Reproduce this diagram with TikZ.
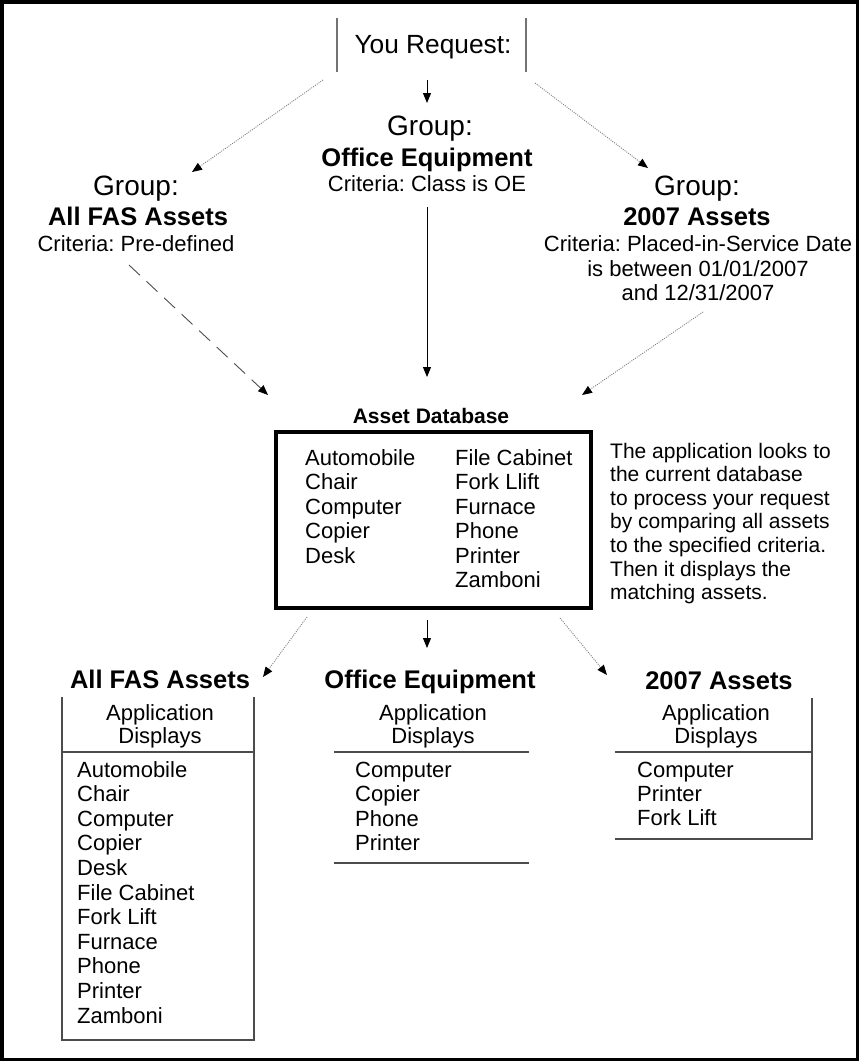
\documentclass[tikz,border=0pt]{standalone}
\usepackage{fontspec}
\setmainfont{Liberation Sans}
\usetikzlibrary{arrows.meta}
\frenchspacing
\begin{document}
\begin{tikzpicture}[x=1pt,y=-1pt,
  txt/.style={inner sep=0pt, anchor=base, font=\fontsize{22}{26}\selectfont},
  itm/.style={inner sep=0pt, anchor=base west, font=\fontsize{22}{26}\selectfont},
  dsc/.style={inner sep=0pt, anchor=base west, font=\fontsize{21}{25}\selectfont},
  grp/.style={inner sep=0pt, anchor=base, font=\fontsize{28}{32}\selectfont},
  ttl/.style={inner sep=0pt, anchor=base, font=\fontsize{25.5}{30}\selectfont\bfseries},
  solidarr/.style={-{Triangle[length=10pt,width=8pt]}, draw=black, line width=1pt},
  dotarr/.style={-{Triangle[length=10pt,width=8pt,color=black]}, draw=black!50, line width=0.9pt, dash pattern=on 1pt off 1.2pt},
  dasharr/.style={-{Triangle[length=10pt,width=8pt,color=black]}, draw=black!70, line width=0.9pt, dash pattern=on 15pt off 9pt},
  tline/.style={draw=black!70, line width=1.3pt},
  rline/.style={draw=black!55, line width=1.6pt}
]
\frenchspacing
\useasboundingbox (0,0) rectangle (859,1061);
\draw[line width=3.5pt] (1.75,1.75) rectangle (857.25,1059.25);

% You Request
\node[inner sep=0pt, anchor=base, font=\fontsize{26.3}{30}\selectfont] (req) at (433,53) {You Request:};
\draw[rline] (337,18) -- (337,72);
\draw[rline] (526,18) -- (526,72);

% Groups
\node[grp] (grpC) at (430,135) {Group:};
\node[ttl] (oeC) at (427,166) {Office Equipment};
\node[txt] (critC) at (427,191) {Criteria: Class is OE};

\node[grp] (grpL) at (136,195) {Group:};
\node[ttl] (allL) at (138,225) {All FAS Assets};
\node[txt] (critL) at (136,251) {Criteria: Pre-defined};

\node[grp] (grpR) at (697,195) {Group:};
\node[ttl] (y07R) at (697,225) {2007 Assets};
\node[txt] (critR1) at (698,251) {Criteria: Placed-in-Service Date};
\node[txt] (critR2) at (698,276) {is between 01/01/2007};
\node[txt] (critR3) at (698,300) {and 12/31/2007};

% Asset database
\node[inner sep=0pt, anchor=base, font=\fontsize{21}{25}\selectfont\bfseries] (adb) at (431,423) {Asset Database};
\node[draw, line width=4.5pt, inner sep=0pt, minimum width=315pt, minimum height=176pt] (db) at (433.5,520) {};
\foreach \t [count=\i] in {Automobile,Chair,Computer,Copier,Desk}
  \node[itm] (dbA\i) at (305,{465+24.5*(\i-1)}) {\t};
\foreach \t [count=\i] in {File Cabinet,Fork Llift,Furnace,Phone,Printer,Zamboni}
  \node[itm] (dbB\i) at (455,{465+24.5*(\i-1)}) {\t};
\foreach \t [count=\i] in {The application looks to,the current database,to process your request,by comparing all assets,to the specified criteria.,Then it displays the,matching assets.}
  \node[dsc] (desc\i) at (610,{458+23.6*(\i-1)}) {\t};

% Arrow end points
\coordinate (a1s) at (427,80);  \coordinate (a1e) at (427,103);
\coordinate (a2s) at (323,80);  \coordinate (a2e) at (192,172);
\coordinate (a3s) at (535,83);  \coordinate (a3e) at (648,168);
\coordinate (a4s) at (129,265); \coordinate (a4e) at (268,395);
\coordinate (a5s) at (427,207); \coordinate (a5e) at (427,377);
\coordinate (a6s) at (703,312); \coordinate (a6e) at (582,395);
\coordinate (a7s) at (307,617); \coordinate (a7e) at (263,677);
\coordinate (a8s) at (427,620); \coordinate (a8e) at (427,648);
\coordinate (a9s) at (560,618); \coordinate (a9e) at (607,675);

\draw[solidarr] (a1s) -- (a1e);
\draw[dotarr] (a2s) -- (a2e);
\draw[dotarr] (a3s) -- (a3e);
\draw[dasharr] (a4s) -- (a4e);
\draw[solidarr] (a5s) -- (a5e);
\draw[dotarr] (a6s) -- (a6e);
\draw[dotarr] (a7s) -- (a7e);
\draw[solidarr] (a8s) -- (a8e);
\draw[dotarr] (a9s) -- (a9e);

% Bottom results
\node[ttl] (allB) at (160,688) {All FAS Assets};
\node[ttl] (oeB) at (430,688) {Office Equipment};
\node[ttl] (y07B) at (719,689) {2007 Assets};

% left table
\node[txt] (hL1) at (160,720) {Application};
\node[txt] (hL2) at (160,743) {Displays};
\draw[tline] (62,697) -- (62,1040) -- (254,1040) -- (254,697);
\draw[tline] (62,752) -- (254,752);
\foreach \t [count=\i] in {Automobile,Chair,Computer,Copier,Desk,File Cabinet,Fork Lift,Furnace,Phone,Printer,Zamboni}
  \node[itm] (lL\i) at (77,{777+24.6*(\i-1)}) {\t};

% middle table
\node[txt] (hM1) at (433,720) {Application};
\node[txt] (hM2) at (433,743) {Displays};
\draw[tline] (334,752) -- (529,752);
\draw[tline] (334,863) -- (529,863);
\foreach \t [count=\i] in {Computer,Copier,Phone,Printer}
  \node[itm] (lM\i) at (355,{777+24.6*(\i-1)}) {\t};

% right table
\node[txt] (hR1) at (716,720) {Application};
\node[txt] (hR2) at (716,743) {Displays};
\draw[tline] (615,752) -- (812,752);
\draw[tline] (812,698) -- (812,839) -- (615,839);
\foreach \t [count=\i] in {Computer,Printer,Fork Lift}
  \node[itm] (lR\i) at (637,{777+24.2*(\i-1)}) {\t};
\end{tikzpicture}
\end{document}
